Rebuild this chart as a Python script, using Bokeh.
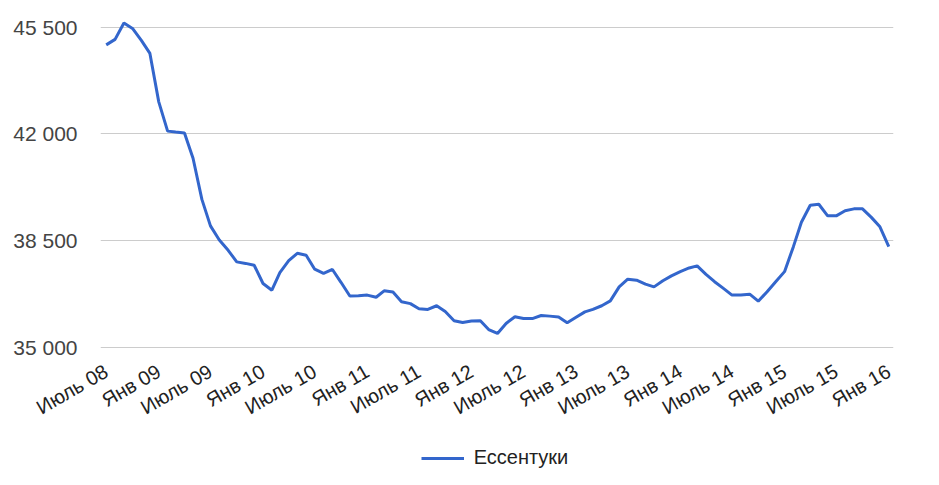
import math
import pandas as pd
from bokeh.plotting import figure
from bokeh.layouts import column
from bokeh.models import Range1d, FixedTicker, Legend, LegendItem
from bokeh.embed import file_html
from bokeh.resources import INLINE

# ---- data ----
months = list(pd.date_range("2008-07-01", "2016-01-01", freq="MS"))
values = [
    44920, 45100, 45640, 45460, 45070, 44640, 43050, 42090, 42060, 42030,
    41200, 39850, 38980, 38520, 38180, 37800, 37750, 37690, 37090, 36870,
    37450, 37840, 38080, 38020, 37560, 37420, 37550, 37130, 36680, 36690,
    36710, 36640, 36850, 36810, 36490, 36430, 36260, 36240, 36360, 36170,
    35870, 35810, 35860, 35870, 35580, 35450, 35780, 36000, 35940, 35940,
    36040, 36020, 35990, 35800, 35980, 36160, 36240, 36360, 36520, 36980,
    37230, 37200, 37070, 36980, 37180, 37340, 37480, 37600, 37670, 37390,
    37150, 36930, 36710, 36710, 36740, 36510, 36820, 37150, 37480, 38300,
    39100, 39660, 39690, 39310, 39310, 39480, 39540, 39540, 39260, 38950,
    38300,
]
series_name = "Ессентуки"
tick_dates = list(pd.date_range("2008-07-01", "2016-01-01", freq="6MS"))
tick_labels = ["Июль 08", "Янв 09", "Июль 09", "Янв 10", "Июль 10", "Янв 11",
               "Июль 11", "Янв 12", "Июль 12", "Янв 13", "Июль 13", "Янв 14",
               "Июль 14", "Янв 15", "Июль 15", "Янв 16"]
y_ticks = [35000, 38500, 42000, 45500]
y_tick_labels = ["35 000", "38 500", "42 000", "45 500"]

FONT = "Liberation Sans"
LINE_COLOR = "#3366cc"

x_start = pd.Timestamp("2008-07-01") - pd.Timedelta(days=20)
x_end = pd.Timestamp("2016-01-01") + pd.Timedelta(days=16.5)

p = figure(width=923, height=445, x_axis_type="datetime",
           x_range=Range1d(x_start, x_end), y_range=Range1d(34892, 45720),
           output_backend="svg", toolbar_location=None,
           min_border_left=100, min_border_right=30, min_border_top=20,
           min_border_bottom=95)
p.outline_line_color = None
p.background_fill_color = "white"
p.border_fill_color = "white"

r = p.line(months, values, line_color=LINE_COLOR, line_width=3)

tick_ms = [int(d.timestamp() * 1000) for d in tick_dates]
p.xaxis.ticker = FixedTicker(ticks=tick_ms)
p.xaxis.major_label_overrides = {t: l for t, l in zip(tick_ms, tick_labels)}
p.xaxis.major_label_orientation = math.pi / 6
p.xaxis.major_label_text_font = FONT
p.xaxis.major_label_text_font_size = "20px"
p.xaxis.major_label_text_color = "#222222"
p.xaxis.major_label_standoff = 19

p.yaxis.ticker = FixedTicker(ticks=y_ticks)
p.yaxis.major_label_overrides = {t: l for t, l in zip(y_ticks, y_tick_labels)}
p.yaxis.major_label_text_font = FONT
p.yaxis.major_label_text_font_size = "21px"
p.yaxis.major_label_text_color = "#444444"
p.yaxis.major_label_standoff = 23

for ax in (p.xaxis, p.yaxis):
    ax.axis_line_color = None
    ax.major_tick_line_color = None
    ax.minor_tick_line_color = None
    ax.major_tick_in = 0
    ax.major_tick_out = 0

p.xgrid.visible = False
p.ygrid.ticker = FixedTicker(ticks=y_ticks)
p.ygrid.grid_line_color = "#cccccc"
p.ygrid.grid_line_width = 1

# ---- legend strip below the chart (its frame is aligned with the chart's) ----
q = figure(width=923, height=24, x_range=Range1d(0, 1), y_range=Range1d(0, 1),
           output_backend="svg", toolbar_location=None,
           min_border_left=100, min_border_right=30, min_border_top=0,
           min_border_bottom=0)
q.axis.visible = False
q.grid.visible = False
q.outline_line_color = None
q.border_fill_color = "white"
# same series, lying outside this strip's ranges: only its legend swatch shows
r_leg = q.line(months, values, line_color=LINE_COLOR, line_width=3)

legend = Legend(items=[LegendItem(label=series_name, renderers=[r_leg])],
                location=(320.7, 0), orientation="horizontal",
                padding=0, margin=0, spacing=0, label_standoff=10,
                glyph_width=43, glyph_height=20, label_height=20,
                border_line_color=None, background_fill_alpha=0,
                label_text_font=FONT, label_text_font_size="20px",
                label_text_color="#222222")
q.add_layout(legend, "center")

open("out.html", "w").write(file_html(column(p, q, spacing=0), INLINE))
